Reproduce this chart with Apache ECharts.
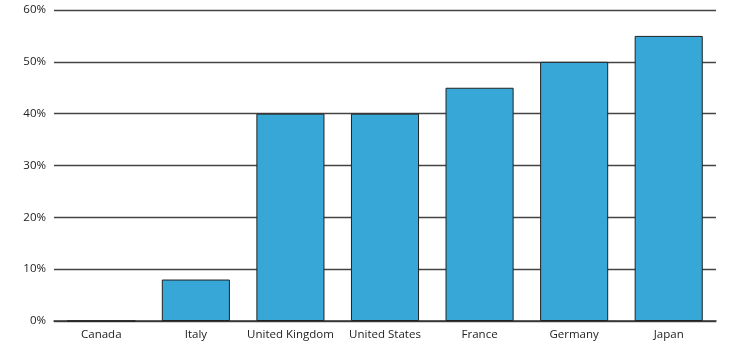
<!DOCTYPE html>
<html><head><meta charset="utf-8">
<script src="https://cdn.jsdelivr.net/npm/echarts@6/dist/echarts.min.js"></script>
<style>html,body{margin:0;padding:0;background:#fff}#c{width:754px;height:362px}</style>
</head><body><div id="c"></div>
<script>
const categories = ['Canada','Italy','United Kingdom','United States','France','Germany','Japan'];
const values = [0, 8, 40, 40, 45, 50, 55];
const yTicks = [0,10,20,30,40,50,60];

const chart = echarts.init(document.getElementById('c'));
chart.setOption({
  animation:false,
  grid:{left:54,right:38,top:10,bottom:41},
  xAxis:{type:'category',data:categories,
    axisLine:{show:true,lineStyle:{color:'#333',width:1.5}},
    axisTick:{show:false},
    axisLabel:{interval:0,color:'#222',fontFamily:'Open Sans',fontSize:11.5,margin:8}},
  yAxis:{type:'value',min:yTicks[0],max:yTicks[yTicks.length-1],interval:10,
    axisLine:{show:false},axisTick:{show:false},
    axisLabel:{color:'#222',fontFamily:'Open Sans',fontSize:11.5,margin:8,formatter:v=>v+'%'},
    splitLine:{lineStyle:{color:'#444',width:1.3}}},
  series:[{type:'bar',data:values,barWidth:'72%',
    itemStyle:{color:'#37a7d7',borderColor:'#222',borderWidth:1}}]
});
</script></body></html>
